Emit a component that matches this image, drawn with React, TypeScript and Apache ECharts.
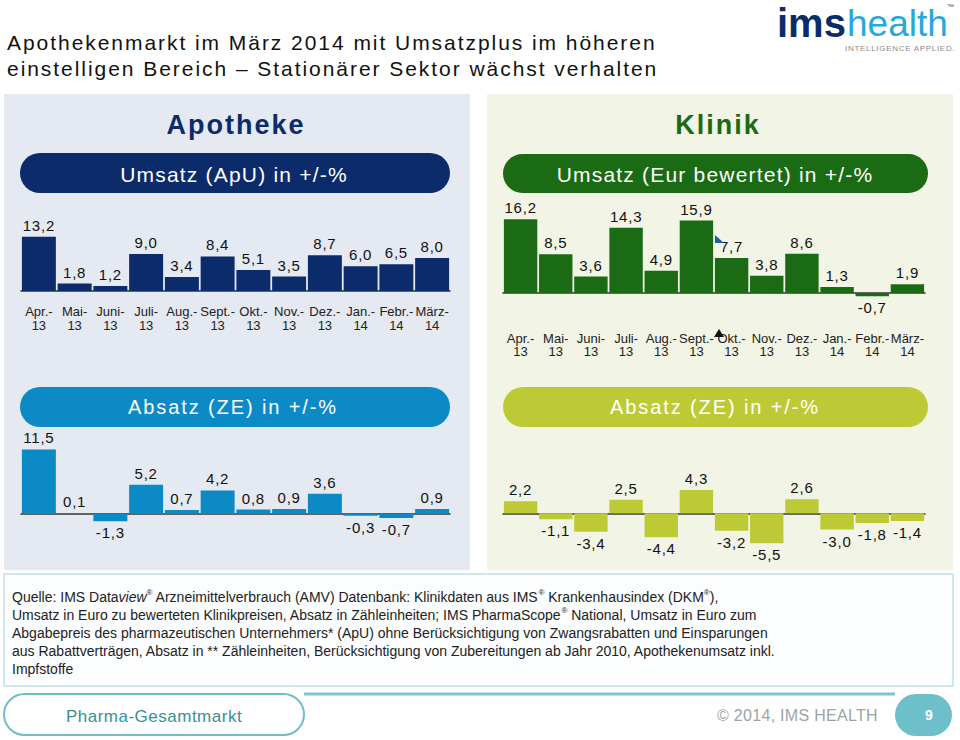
import React, { useEffect, useRef } from 'react';
import * as echarts from 'echarts';

const months = ['Apr.-', 'Mai-', 'Juni-', 'Juli-', 'Aug.-', 'Sept.-', 'Okt.-', 'Nov.-', 'Dez.-', 'Jan.-', 'Febr.-', 'März-'];
const years = ['13', '13', '13', '13', '13', '13', '13', '13', '13', '14', '14', '14'];
const apoUmsatz = [13.2, 1.8, 1.2, 9.0, 3.4, 8.4, 5.1, 3.5, 8.7, 6.0, 6.5, 8.0];
const kliUmsatz = [16.2, 8.5, 3.6, 14.3, 4.9, 15.9, 7.7, 3.8, 8.6, 1.3, -0.7, 1.9];
const apoAbsatz = [11.5, 0.1, -1.3, 5.2, 0.7, 4.2, 0.8, 0.9, 3.6, -0.3, -0.7, 0.9];
const kliAbsatz = [2.2, -1.1, -3.4, 2.5, -4.4, 4.3, -3.2, -5.5, 2.6, -3.0, -1.8, -1.4];

const titleLines = [
  'Apothekenmarkt im März 2014 mit Umsatzplus im höheren',
  'einstelligen Bereich – Stationärer Sektor wächst verhalten',
];

const FONT = '"Liberation Sans", Arial, sans-serif';
const NAVY = '#0b2b6b';
const GREEN = '#1a6b14';
const BLUE = '#0b8ac6';
const LIME = '#bdca36';
const TEAL = '#6dbfca';

const categories = months.map((m, i) => m + '\n' + years[i]);

const fmt = (v: number) => v.toFixed(1).replace('.', ',');

const barData = (vals: number[]) =>
  vals.map((v) => ({ value: v, label: { position: v >= 0 ? 'top' : 'bottom' } }));

function barSeries(idx: number, vals: number[], color: string) {
  return {
    type: 'bar',
    xAxisIndex: idx,
    yAxisIndex: idx,
    data: barData(vals),
    barCategoryGap: '5%',
    itemStyle: { color },
    label: {
      show: true,
      distance: 4,
      fontSize: 15,
      fontFamily: FONT,
      color: '#111',
      formatter: (p: any) => fmt(p.value),
    },
    silent: true,
  };
}

function xAxis(idx: number, showLabels: boolean, margin: number) {
  return {
    type: 'category',
    gridIndex: idx,
    data: categories,
    axisTick: { show: false },
    axisLine: { show: true, onZero: true, lineStyle: { color: '#333', width: 1.5 } },
    axisLabel: {
      show: showLabels,
      interval: 0,
      fontSize: 13,
      lineHeight: 13.5,
      fontFamily: FONT,
      color: '#222',
      margin,
    },
    splitLine: { show: false },
  };
}

function yAxis(idx: number, min: number, max: number) {
  return {
    type: 'value',
    gridIndex: idx,
    min,
    max,
    show: false,
    splitLine: { show: false },
  };
}

const txt = (text: string, x: number, y: number, font: string, fill: string, align = 'left', extra: any = {}) => ({
  type: 'text',
  x,
  y,
  z: 5,
  style: { text, font, fill, textAlign: align, textVerticalAlign: 'middle', ...extra },
});

const footerText =
  '{n|Quelle: IMS Data}{i|view}{s|®}{n| Arzneimittelverbrauch (AMV) Datenbank: Klinikdaten aus IMS}{s|®}{n| Krankenhausindex (DKM}{s|®}{n|),}\n' +
  '{n|Umsatz in Euro zu bewerteten Klinikpreisen, Absatz in Zähleinheiten; IMS PharmaScope}{s|®}{n| National, Umsatz in Euro zum}\n' +
  '{n|Abgabepreis des pharmazeutischen Unternehmers* (ApU) ohne Berücksichtigung von Zwangsrabatten und Einsparungen}\n' +
  '{n|aus Rabattverträgen, Absatz in ** Zähleinheiten, Berücksichtigung von Zubereitungen ab Jahr 2010, Apothekenumsatz inkl.}\n' +
  '{n|Impfstoffe}';

const option: any = {
  animation: false,
  backgroundColor: '#ffffff',
  grid: [
    { left: 21, width: 429, top: 229.3, height: 61.7, containLabel: false, outerBoundsMode: 'none' },
    { left: 503, width: 422, top: 215.5, height: 82.1, containLabel: false, outerBoundsMode: 'none' },
    { left: 21, width: 429, top: 446.6, height: 78.7, containLabel: false, outerBoundsMode: 'none' },
    { left: 503, width: 422, top: 486.1, height: 59.8, containLabel: false, outerBoundsMode: 'none' },
  ],
  xAxis: [xAxis(0, true, 14), xAxis(1, true, 34), xAxis(2, false, 8), xAxis(3, false, 8)],
  yAxis: [yAxis(0, 0, 15), yAxis(1, -1, 17), yAxis(2, -2, 12), yAxis(3, -6, 5)],
  series: [
    barSeries(0, apoUmsatz, NAVY),
    barSeries(1, kliUmsatz, GREEN),
    barSeries(2, apoAbsatz, BLUE),
    barSeries(3, kliAbsatz, LIME),
  ],
  graphic: [
    // panels
    { type: 'rect', z: 0, shape: { x: 4, y: 94, width: 466, height: 476 }, style: { fill: '#e5e9f1' } },
    { type: 'rect', z: 0, shape: { x: 487, y: 94, width: 466, height: 476 }, style: { fill: '#f2f4e5' } },
    // footer box
    { type: 'rect', z: 0, shape: { x: 4, y: 574, width: 949, height: 112 }, style: { fill: '#fbfdfe', stroke: '#cfe8ee', lineWidth: 2 } },
    // titles
    txt(titleLines[0], 7, 42, '21px ' + FONT, '#111'),
    txt(titleLines[1], 7, 68, '21px ' + FONT, '#111'),
    // logo
    txt('ims', 777, 23, 'bold 40px ' + FONT, NAVY),
    txt('health', 847, 23, '37px ' + FONT, '#29a7dc'),
    txt('™', 947, 6, '7px ' + FONT, '#555'),
    txt('INTELLIGENCE APPLIED.', 845, 48, '8px ' + FONT, '#8a8a8a'),
    // section titles
    txt('Apotheke', 236, 125, 'bold 27px ' + FONT, NAVY, 'center'),
    txt('Klinik', 718, 125, 'bold 27px ' + FONT, GREEN, 'center'),
    // pills
    { type: 'rect', z: 1, shape: { x: 20, y: 153, width: 430, height: 40, r: 20 }, style: { fill: NAVY } },
    { type: 'rect', z: 1, shape: { x: 503, y: 154, width: 425, height: 39, r: 19.5 }, style: { fill: GREEN } },
    { type: 'rect', z: 1, shape: { x: 20, y: 387, width: 430, height: 40, r: 20 }, style: { fill: BLUE } },
    { type: 'rect', z: 1, shape: { x: 503, y: 387, width: 425, height: 40, r: 20 }, style: { fill: LIME } },
    txt('Umsatz (ApU) in +/-%', 234, 174, '21px ' + FONT, '#ffffff', 'center'),
    txt('Umsatz (Eur bewertet) in +/-%', 715, 174, '21px ' + FONT, '#ffffff', 'center'),
    txt('Absatz (ZE) in +/-%', 233, 407, '20px ' + FONT, '#ffffff', 'center'),
    txt('Absatz (ZE) in +/-%', 715, 407, '20px ' + FONT, '#ffffff', 'center'),
    // small cursor marks
    { type: 'polygon', z: 6, shape: { points: [[715, 235], [715, 243], [724, 243]] }, style: { fill: '#1f5fa8' } },
    { type: 'polygon', z: 6, shape: { points: [[714, 337], [719, 329], [724, 337]] }, style: { fill: '#111' } },
    // footer text
    {
      type: 'text',
      x: 12,
      y: 588,
      z: 5,
      style: {
        text: footerText,
        font: '14px ' + FONT,
        fill: '#222',
        textAlign: 'left',
        textVerticalAlign: 'top',
        lineHeight: 18,
        rich: {
          n: { fontSize: 14, fontFamily: FONT, lineHeight: 18, fill: '#222' },
          i: { fontSize: 14, fontFamily: FONT, fontStyle: 'italic', lineHeight: 18, fill: '#222' },
          s: { fontSize: 8, fontFamily: FONT, lineHeight: 18, fill: '#222', verticalAlign: 'top' },
        },
      },
    },
    // bottom bar
    { type: 'line', z: 1, shape: { x1: 304, y1: 694, x2: 895, y2: 694 }, style: { stroke: '#7cc4cd', lineWidth: 3 } },
    { type: 'rect', z: 2, shape: { x: 4, y: 694, width: 300, height: 41, r: 20.5 }, style: { fill: '#ffffff', stroke: '#72bec7', lineWidth: 2 } },
    txt('Pharma-Gesamtmarkt', 154, 716, '17px ' + FONT, '#3b8f93', 'center'),
    txt('© 2014, IMS HEALTH', 717, 715, '16px ' + FONT, '#9ba4a8'),
    { type: 'rect', z: 2, shape: { x: 895, y: 694, width: 57, height: 42, r: 21 }, style: { fill: TEAL } },
    txt('9', 929, 715, 'bold 14px ' + FONT, '#ffffff', 'center'),
  ],
};

const spacingFor = (s: string): number => {
  if (/^-?\d+,\d$/.test(s)) return 0.8;
  if (s.startsWith('Apothekenmarkt') || s.startsWith('einstelligen')) return 1.95;
  if (s === 'Apotheke' || s === 'Klinik') return 2;
  if (s.startsWith('Umsatz (')) return 1.2;
  if (s.startsWith('Absatz (ZE)')) return 1.9;
  if (s === 'Pharma-Gesamtmarkt') return 0.5;
  if (s.startsWith('©')) return 0.3;
  if (s === 'INTELLIGENCE APPLIED.') return 0.7;
  return 0;
};

function applySpacing(root: HTMLElement | null) {
  if (!root) return;
  root.querySelectorAll('text').forEach((t) => {
    const ls = spacingFor((t.textContent || '').trim());
    if (ls) t.setAttribute('letter-spacing', String(ls));
  });
}

export default function App() {
  const ref = useRef<HTMLDivElement>(null);
  useEffect(() => {
    const el = ref.current!;
    const chart = echarts.init(el, null, { renderer: 'svg', width: 960, height: 740 });
    chart.setOption(option);
    applySpacing(el);
    chart.on('finished', () => applySpacing(el));
    const t = setTimeout(() => applySpacing(el), 50);
    return () => {
      clearTimeout(t);
      chart.dispose();
    };
  }, []);
  return <div ref={ref} style={{ width: 960, height: 740, position: 'absolute', left: 0, top: 0 }} />;
}
